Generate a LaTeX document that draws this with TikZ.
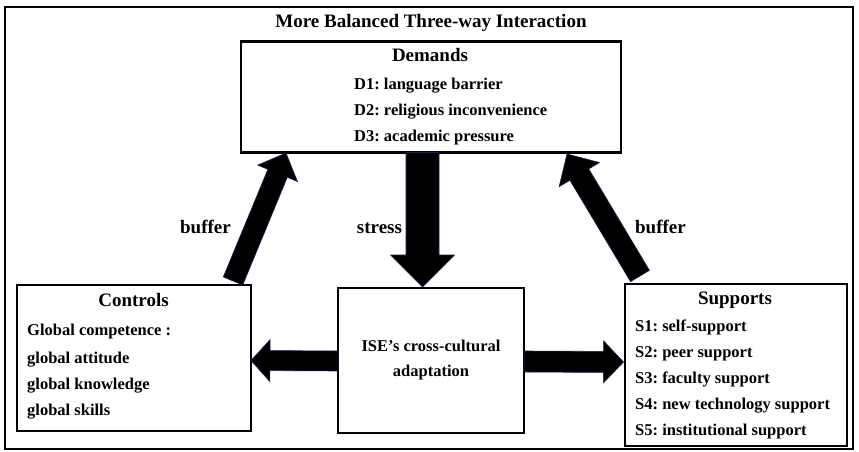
\documentclass[tikz,border=0pt]{standalone}
\usepackage{fontspec}
\setmainfont{Liberation Serif}
\frenchspacing
\usetikzlibrary{calc}
\tikzset{
  box/.style={draw=black, line width=2.8pt, inner sep=0pt, outer sep=0pt, fill=white},
  frame/.style={draw=black, line width=2pt},
  itemtxt/.style={anchor=base west, inner sep=0pt, font=\fontsize{16.5}{18}\selectfont\bfseries},
  ctrtxt/.style={anchor=base, inner sep=0pt, font=\fontsize{16.5}{18}\selectfont\bfseries},
  headtxt/.style={anchor=base, inner sep=0pt, font=\fontsize{19}{21}\selectfont\bfseries},
  arrowfill/.style={fill=black, draw={rgb,255:red,25;green,35;blue,80}, line width=0.6pt, line join=miter}
}
\newcommand\fatarrow[6]{% #1 tail, #2 tip, #3 shaft half, #4 head half, #5 head length, #6 name
  \coordinate (#6hb) at ($(#2)!#5!(#1)$);
  \filldraw[arrowfill] ($(#1)!#3!90:(#2)$) -- ($(#6hb)!#3!90:(#2)$) -- ($(#6hb)!#4!90:(#2)$)
    -- (#2) -- ($(#6hb)!#4!-90:(#2)$) -- ($(#6hb)!#3!-90:(#2)$) -- ($(#1)!#3!-90:(#2)$) -- cycle;
}
\begin{document}
\begin{tikzpicture}[x=1pt, y=-1pt]
  \useasboundingbox (0,0) rectangle (859,452);
  \fill[white] (0,0) rectangle (859,452);
  \draw[frame] (5,7.5) rectangle (853,449);

  % title
  \node[headtxt] (title) at (431,28) {More Balanced Three-way Interaction};

  % boxes
  \node[box, minimum width=380pt, minimum height=111pt] (dem) at (431,97) {};
  \node[box, minimum width=234pt, minimum height=146pt] (ctl) at (134,358) {};
  \node[box, minimum width=186pt, minimum height=145pt] (ise) at (431,360.5) {};
  \node[box, minimum width=222pt, minimum height=162pt] (sup) at (736,365) {};

  % demands text
  \node[headtxt] (demh) at (430,62) {Demands};
  \node[itemtxt] (d1) at (354,89.5) {D1: language barrier};
  \node[itemtxt] (d2) at (354,115.5) {D2: religious inconvenience};
  \node[itemtxt] (d3) at (354,141.5) {D3: academic pressure};

  % controls text
  \node[headtxt] (ctlh) at (133.5,306.5) {Controls};
  \node[itemtxt] (c0) at (27,335) {Global competence :};
  \node[itemtxt] (c1) at (27,363) {global attitude};
  \node[itemtxt] (c2) at (27,389) {global knowledge};
  \node[itemtxt] (c3) at (27,415) {global skills};

  % center text
  \node[ctrtxt] (i1) at (431,351.5) {ISE’s cross-cultural};
  \node[ctrtxt] (i2) at (431,376.5) {adaptation};

  % supports text
  \node[headtxt] (suph) at (735,304) {Supports};
  \node[itemtxt] (s1) at (635,331.5) {S1: self-support};
  \node[itemtxt] (s2) at (635,357) {S2: peer support};
  \node[itemtxt] (s3) at (635,383) {S3: faculty support};
  \node[itemtxt] (s4) at (635,409) {S4: new technology support};
  \node[itemtxt] (s5) at (635,435) {S5: institutional support};

  % arrow end points
  \coordinate (stT) at (422.5,152.5);
  \coordinate (stP) at (422.5,287);
  \coordinate (lbT) at (233,281);
  \coordinate (lbP) at (286,153);
  \coordinate (rbT) at (640,276);
  \coordinate (rbP) at (567,154);
  \coordinate (lhT) at (338,361);
  \coordinate (lhP) at (251,360.5);
  \coordinate (rhT) at (524,361.5);
  \coordinate (rhP) at (623.5,362);

  \fatarrow{stT}{stP}{16.5pt}{32pt}{32pt}{st}
  \fatarrow{lbT}{lbP}{10.5pt}{21.5pt}{22pt}{lb}
  \fatarrow{rbT}{rbP}{11pt}{23.5pt}{24pt}{rb}
  \fatarrow{lhT}{lhP}{10pt}{21pt}{19pt}{lh}
  \fatarrow{rhT}{rhP}{10.5pt}{21pt}{20pt}{rh}

  % labels
  \node[headtxt] (lbl1) at (205.5,233) {buffer};
  \node[headtxt] (lbl2) at (379.5,233) {stress};
  \node[headtxt] (lbl3) at (660.5,233) {buffer};
\end{tikzpicture}
\end{document}
